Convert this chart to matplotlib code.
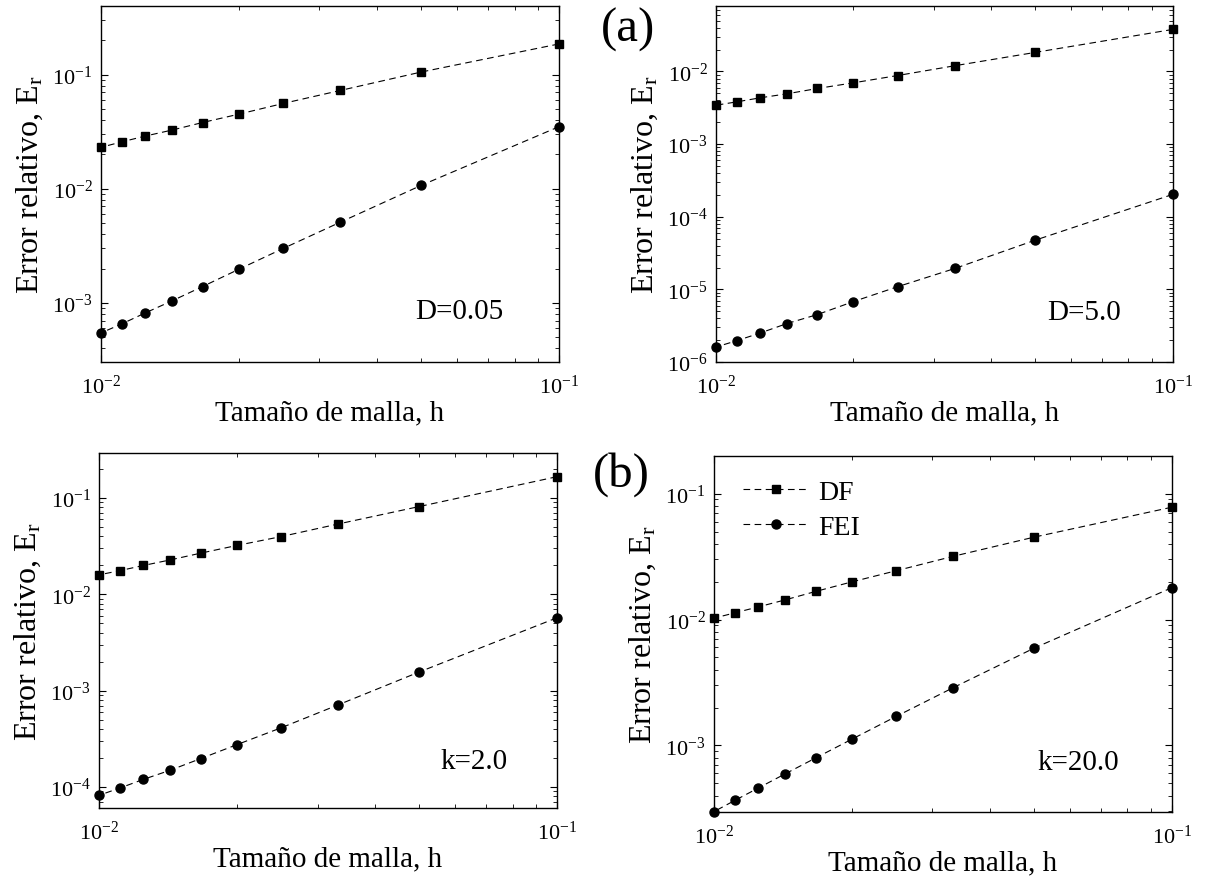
import math
import matplotlib
matplotlib.use("Agg")
import matplotlib.pyplot as plt
from matplotlib.ticker import LogLocator, FuncFormatter, NullFormatter

plt.rcParams['font.family'] = ['Liberation Serif', 'DejaVu Serif']
plt.rcParams['mathtext.fontset'] = 'custom'
plt.rcParams['mathtext.rm'] = 'Liberation Serif'
plt.rcParams['mathtext.it'] = 'Liberation Serif:italic'

# mesh sizes h = 1/N, N = 10..100
h = [0.1, 0.05, 1/30, 0.025, 0.02, 1/60, 1/70, 0.0125, 1/90, 0.01]

# top-left, D=0.05
df_d005 = [0.186, 0.1055, 0.0728, 0.056, 0.0451, 0.0381, 0.0327, 0.0290, 0.0258, 0.0231]
fei_d005 = [0.035, 0.0107, 5.1e-3, 3.0e-3, 1.97e-3, 1.39e-3, 1.04e-3, 8.17e-4, 6.55e-4, 5.45e-4]

# top-right, D=5.0
df_d5 = [0.0379, 0.0183, 0.0120, 8.8e-3, 6.98e-3, 5.83e-3, 4.92e-3, 4.34e-3, 3.82e-3, 3.43e-3]
fei_d5 = [2.03e-4, 4.76e-5, 1.94e-5, 1.09e-5, 6.8e-6, 4.5e-6, 3.38e-6, 2.51e-6, 1.97e-6, 1.61e-6]

# bottom-left, k=2.0
df_k2 = [0.166, 0.0813, 0.0537, 0.0397, 0.0321, 0.0267, 0.0227, 0.0199, 0.0176, 0.0159]
fei_k2 = [5.7e-3, 1.56e-3, 7.14e-4, 4.12e-4, 2.75e-4, 1.97e-4, 1.49e-4, 1.2e-4, 9.77e-5, 8.2e-5]

# bottom-right, k=20.0
df_k20 = [0.078, 0.0451, 0.0318, 0.0244, 0.0199, 0.0167, 0.0143, 0.0126, 0.0113, 0.01025]
fei_k20 = [0.0179, 5.92e-3, 2.88e-3, 1.70e-3, 1.12e-3, 7.94e-4, 5.93e-4, 4.59e-4, 3.66e-4, 2.98e-4]

panels = [
    ([0.0838, 0.587, 0.380, 0.405], df_d005, fei_d005, (3.03e-4, 0.40), 'D=0.05', (0.88, 0.143)),
    ([0.5942, 0.587, 0.379, 0.405], df_d5, fei_d5, (1e-6, 0.0796), 'D=5.0', (0.886, 0.14)),
    ([0.0822, 0.0796, 0.380, 0.404], df_k2, fei_k2, (6.05e-5, 0.293), 'k=2.0', (0.893, 0.132)),
    ([0.5925, 0.0751, 0.380, 0.405], df_k20, fei_k20, (2.96e-4, 0.199), 'k=20.0', (0.884, 0.14)),
]


def pow10(v, pos):
    e = int(round(math.log10(v)))
    return r'$\mathregular{10^{%d}}$' % e


fig = plt.figure(figsize=(12.05, 8.79), dpi=100)

for i, (pos, df, fei, ylim, note, npos) in enumerate(panels):
    ax = fig.add_axes(pos)
    ax.loglog(h, df, 'k--', marker='s', ms=6, lw=0.8, dashes=(6, 4), label='DF', clip_on=False)
    ax.loglog(h, fei, 'k--', marker='o', ms=6.5, lw=0.8, dashes=(6, 4), label='FEI', clip_on=False)
    ax.set_xlim(0.01, 0.1)
    ax.set_ylim(*ylim)
    ax.xaxis.set_major_locator(LogLocator(base=10))
    ax.yaxis.set_major_locator(LogLocator(base=10))
    ax.xaxis.set_minor_locator(LogLocator(base=10, subs=range(2, 10)))
    ax.yaxis.set_minor_locator(LogLocator(base=10, subs=range(2, 10), numticks=20))
    ax.xaxis.set_major_formatter(FuncFormatter(pow10))
    ax.yaxis.set_major_formatter(FuncFormatter(pow10))
    ax.xaxis.set_minor_formatter(NullFormatter())
    ax.yaxis.set_minor_formatter(NullFormatter())
    ax.tick_params(which='both', direction='in', top=True, right=True, labelsize=16)
    ax.tick_params(which='major', length=5, width=0.8)
    ax.tick_params(which='minor', length=3, width=0.6)
    ax.tick_params(axis='x', pad=9)
    ax.tick_params(axis='y', pad=6)
    for s in ax.spines.values():
        s.set_linewidth(1.0)
    ax.set_xlabel('Tamaño de malla, h', fontsize=21, labelpad=1)
    ax.set_ylabel(r'Error relativo, E$_\mathregular{r}$', fontsize=23, labelpad=5)
    ax.text(npos[0], npos[1], note, transform=ax.transAxes, fontsize=21,
            ha='right', va='center')
    if i == 3:
        ax.legend(loc='upper left', bbox_to_anchor=(0.063, 0.935), frameon=False,
                  fontsize=20, handlelength=2.4, borderpad=0, borderaxespad=0,
                  labelspacing=0.35, handletextpad=0.3)

fig.text(0.521, 0.966, '(a)', fontsize=35, ha='center', va='center')
fig.text(0.516, 0.46, '(b)', fontsize=35, ha='center', va='center')

fig.savefig('out.png', dpi=100)
